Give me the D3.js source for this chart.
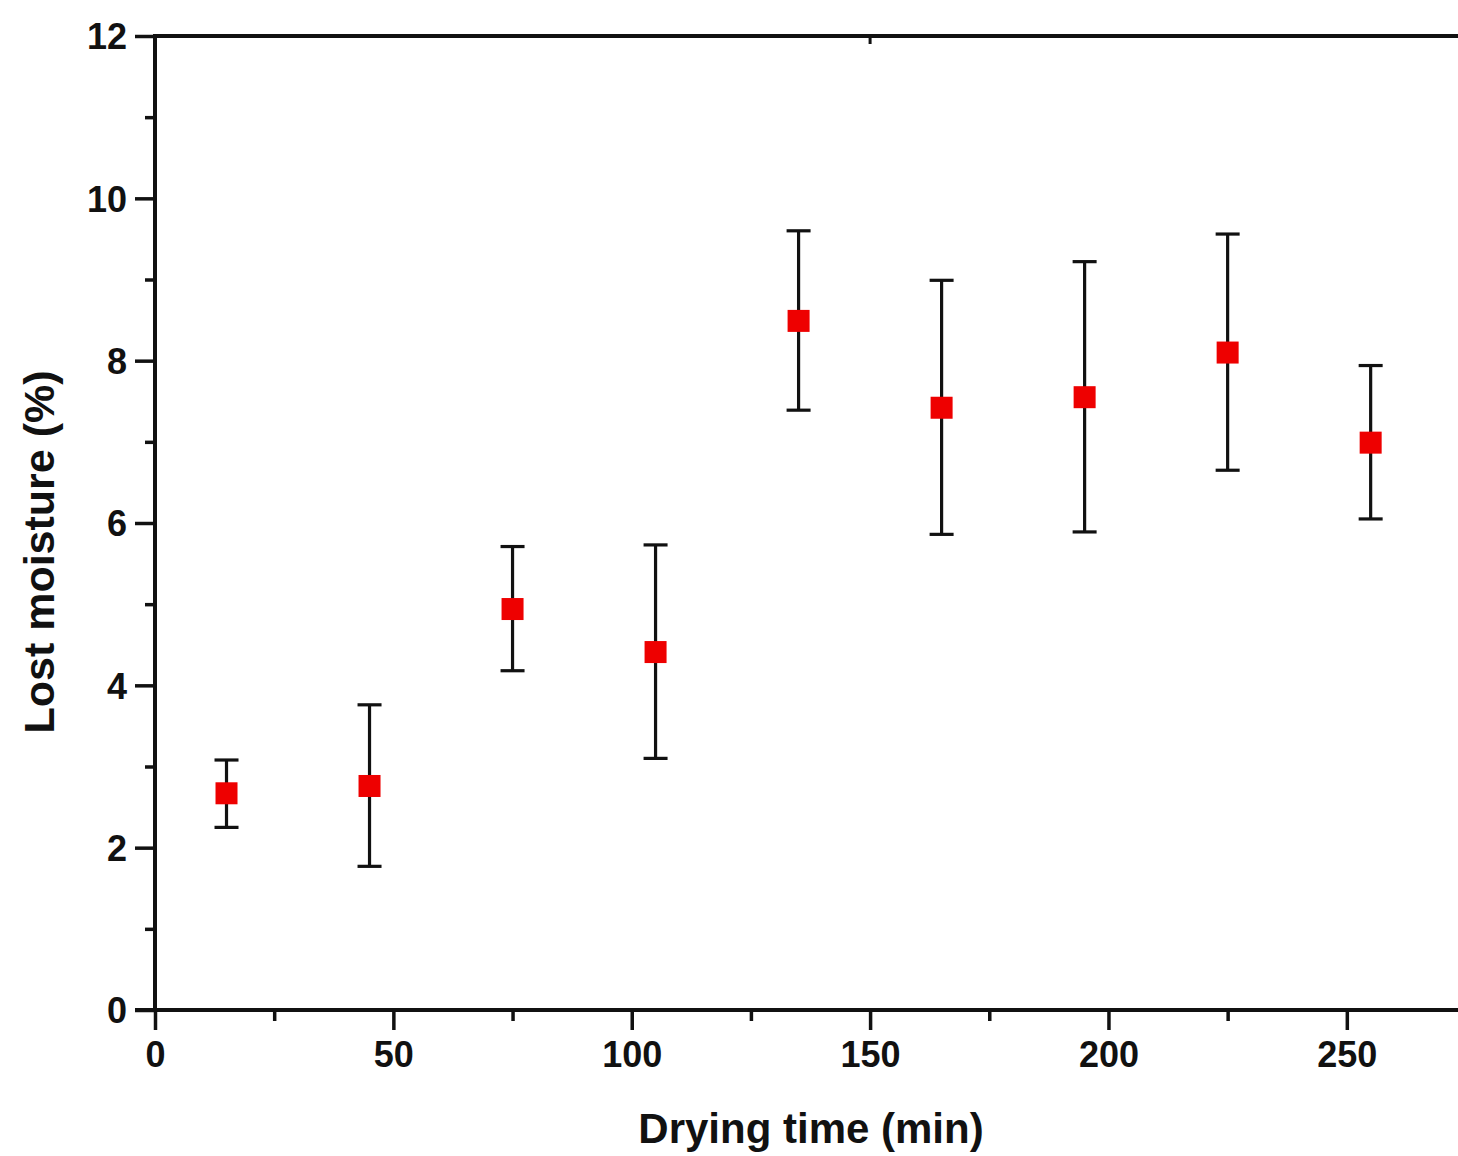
<!DOCTYPE html>
<html>
<head>
<meta charset="utf-8">
<script src="https://cdn.jsdelivr.net/npm/d3@7"></script>
<style>
  html, body { margin: 0; padding: 0; background: #fff; }
  svg { display: block; }
  text { font-family: "Liberation Sans", Arial, sans-serif; font-weight: bold; fill: #111; }
</style>
</head>
<body>
<svg id="chart" width="1458" height="1156"></svg>
<script>
// Drying time (min) and mean lost moisture (%) with error bar ends
const dryingTime = [15, 45, 75, 105, 135, 165, 195, 225, 255];
const lostMoisture = [2.67, 2.76, 4.94, 4.41, 8.49, 7.42, 7.55, 8.10, 6.99];
const errorUpper = [3.08, 3.76, 5.71, 5.73, 9.60, 8.99, 9.22, 9.56, 7.94];
const errorLower = [2.25, 1.77, 4.18, 3.10, 7.39, 5.86, 5.89, 6.65, 6.05];

const xMajorTicks = [0, 50, 100, 150, 200, 250];
const xMinorTicks = [25, 75, 125, 175, 225];
const yMajorTicks = [0, 2, 4, 6, 8, 10, 12];
const yMinorTicks = [1, 3, 5, 7, 9, 11];

const xTitle = "Drying time (min)";
const yTitle = "Lost moisture (%)";

const svg = d3.select("#chart");

const x = d3.scaleLinear().domain([0, 275]).range([155, 1466]);
const y = d3.scaleLinear().domain([0, 12]).range([1010, 36]);

const axisColor = "#111";

// Bottom axis: major and minor ticks pointing outward
const gx = svg.append("g").attr("transform", `translate(0,${y(0)})`);
gx.call(d3.axisBottom(x).tickValues(xMajorTicks).tickSize(20).tickPadding(11).tickFormat(d3.format("d")));
gx.append("g").call(d3.axisBottom(x).tickValues(xMinorTicks).tickSize(11).tickFormat(""));
gx.selectAll(".domain").remove();
gx.selectAll("line").attr("stroke", axisColor).attr("stroke-width", 3.5);
gx.selectAll("text").attr("font-size", 36).attr("fill", "#111").attr("dy", "0.72em");

// Left axis: major and minor ticks pointing outward
const gy = svg.append("g").attr("transform", `translate(${x(0)},0)`);
gy.call(d3.axisLeft(y).tickValues(yMajorTicks).tickSize(20).tickPadding(8).tickFormat(d3.format("d")));
gy.append("g").call(d3.axisLeft(y).tickValues(yMinorTicks).tickSize(10).tickFormat(""));
gy.selectAll(".domain").remove();
gy.selectAll("line").attr("stroke", axisColor).attr("stroke-width", 3.5);
gy.selectAll("text").attr("font-size", 36).attr("fill", "#111").attr("dy", "0.36em");

// Frame lines (left, bottom, top)
svg.append("line").attr("x1", x(0)).attr("x2", x(0)).attr("y1", y(12) - 2).attr("y2", y(0))
  .attr("stroke", axisColor).attr("stroke-width", 4);
svg.append("line").attr("x1", x(0) - 20).attr("x2", x(275)).attr("y1", y(0)).attr("y2", y(0))
  .attr("stroke", axisColor).attr("stroke-width", 4);
svg.append("line").attr("x1", x(0)).attr("x2", x(275)).attr("y1", y(12)).attr("y2", y(12))
  .attr("stroke", axisColor).attr("stroke-width", 4);
// small inward tick on the top axis
svg.append("line").attr("x1", x(150)).attr("x2", x(150)).attr("y1", y(12)).attr("y2", y(12) + 8)
  .attr("stroke", axisColor).attr("stroke-width", 3);

// Error bars
const capHalf = 12;
const bars = svg.append("g").selectAll("g").data(dryingTime).join("g");
bars.append("line")
  .attr("x1", (d) => x(d)).attr("x2", (d) => x(d))
  .attr("y1", (d, i) => y(errorUpper[i])).attr("y2", (d, i) => y(errorLower[i]))
  .attr("stroke", "#111").attr("stroke-width", 3.2);
bars.append("line")
  .attr("x1", (d) => x(d) - capHalf).attr("x2", (d) => x(d) + capHalf)
  .attr("y1", (d, i) => y(errorUpper[i])).attr("y2", (d, i) => y(errorUpper[i]))
  .attr("stroke", "#111").attr("stroke-width", 3.2);
bars.append("line")
  .attr("x1", (d) => x(d) - capHalf).attr("x2", (d) => x(d) + capHalf)
  .attr("y1", (d, i) => y(errorLower[i])).attr("y2", (d, i) => y(errorLower[i]))
  .attr("stroke", "#111").attr("stroke-width", 3.2);

// Square markers
const size = 22;
svg.append("g").selectAll("rect").data(dryingTime).join("rect")
  .attr("x", (d) => x(d) - size / 2)
  .attr("y", (d, i) => y(lostMoisture[i]) - size / 2)
  .attr("width", size).attr("height", size)
  .attr("fill", "#ee0000");

// Axis titles
svg.append("text")
  .attr("x", 811).attr("y", 1143)
  .attr("text-anchor", "middle").attr("font-size", 42)
  .text(xTitle);

svg.append("text")
  .attr("transform", "translate(54,552) rotate(-90)")
  .attr("text-anchor", "middle").attr("font-size", 43)
  .text(yTitle);
</script>
</body>
</html>
